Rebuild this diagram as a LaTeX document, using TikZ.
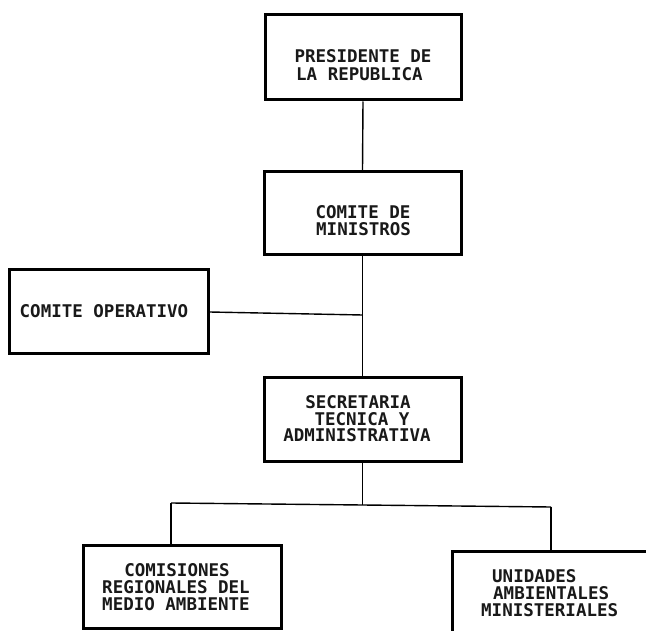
\documentclass[tikz,border=0pt]{standalone}
\usepackage{fontspec}
\newfontfamily\plotfont{DejaVu Sans Mono}
\tikzset{
  orgbox/.style={draw=black, line width=3pt, rectangle, inner sep=0pt, fill=none},
  conn/.style={draw=black, line width=1.4pt},
  lbl/.style={font=\plotfont\bfseries\fontsize{17.5}{17.5}\selectfont, inner sep=0pt, anchor=base, text=black!90}
}
\begin{document}
\begin{tikzpicture}[x=1pt,y=-1pt]
\clip (0,0) rectangle (646,631);
\fill[white] (0,0) rectangle (646,631);
% boxes
\node[orgbox, minimum width=196pt, minimum height=85pt] (b1) at (363,57.5) {};
\node[orgbox, minimum width=197pt, minimum height=83pt] (b2) at (362.5,213.5) {};
\node[orgbox, minimum width=199pt, minimum height=84pt] (b3) at (108.5,312) {};
\node[orgbox, minimum width=197pt, minimum height=83pt] (b4) at (362.5,419.5) {};
\node[orgbox, minimum width=198pt, minimum height=83pt] (b5) at (182,586.5) {};
\node[orgbox, minimum width=210pt, minimum height=92pt] (b6) at (557,597) {};
% labels
\node[lbl] (t1a) at (363,63) {PRESIDENTE DE};
\node[lbl, anchor=base west] (t1b) at (296,81) {LA REPUBLICA};
\node[lbl] (t2a) at (363,219) {COMITE DE};
\node[lbl, anchor=base west] (t2b) at (316,236) {MINISTROS};
\node[lbl] (t3) at (104,318) {COMITE OPERATIVO};
\node[lbl] (t4a) at (358,408) {SECRETARIA};
\node[lbl] (t4b) at (362,425) {TECNICA Y};
\node[lbl] (t4c) at (357,442) {ADMINISTRATIVA};
\node[lbl] (t5a) at (177,576) {COMISIONES};
\node[lbl] (t5b) at (176,593) {REGIONALES DEL};
\node[lbl] (t5c) at (176,610) {MEDIO AMBIENTE};
\node[lbl, anchor=base west] (t6a) at (492,582) {UNIDADES};
\node[lbl, anchor=base west] (t6b) at (493,599) {AMBIENTALES};
\node[lbl, anchor=base west] (t6c) at (481,616) {MINISTERIALES};
% connectors
\coordinate (jo) at (362.5,315);
\coordinate (j) at (362.5,505);
\coordinate (jl) at (171,503);
\coordinate (jr) at (551,507);
\draw[conn] (b1.south) -- (b2.north);
\draw[conn] (b2.south) -- (b4.north);
\draw[conn] (b3.east) -- (jo);
\draw[conn] (b4.south) -- (j);
\draw[conn] (jl) -- (j) -- (jr);
\draw[conn] (jl) -- (jl |- b5.north);
\draw[conn] (jr) -- (jr |- b6.north);
\end{tikzpicture}
\end{document}
